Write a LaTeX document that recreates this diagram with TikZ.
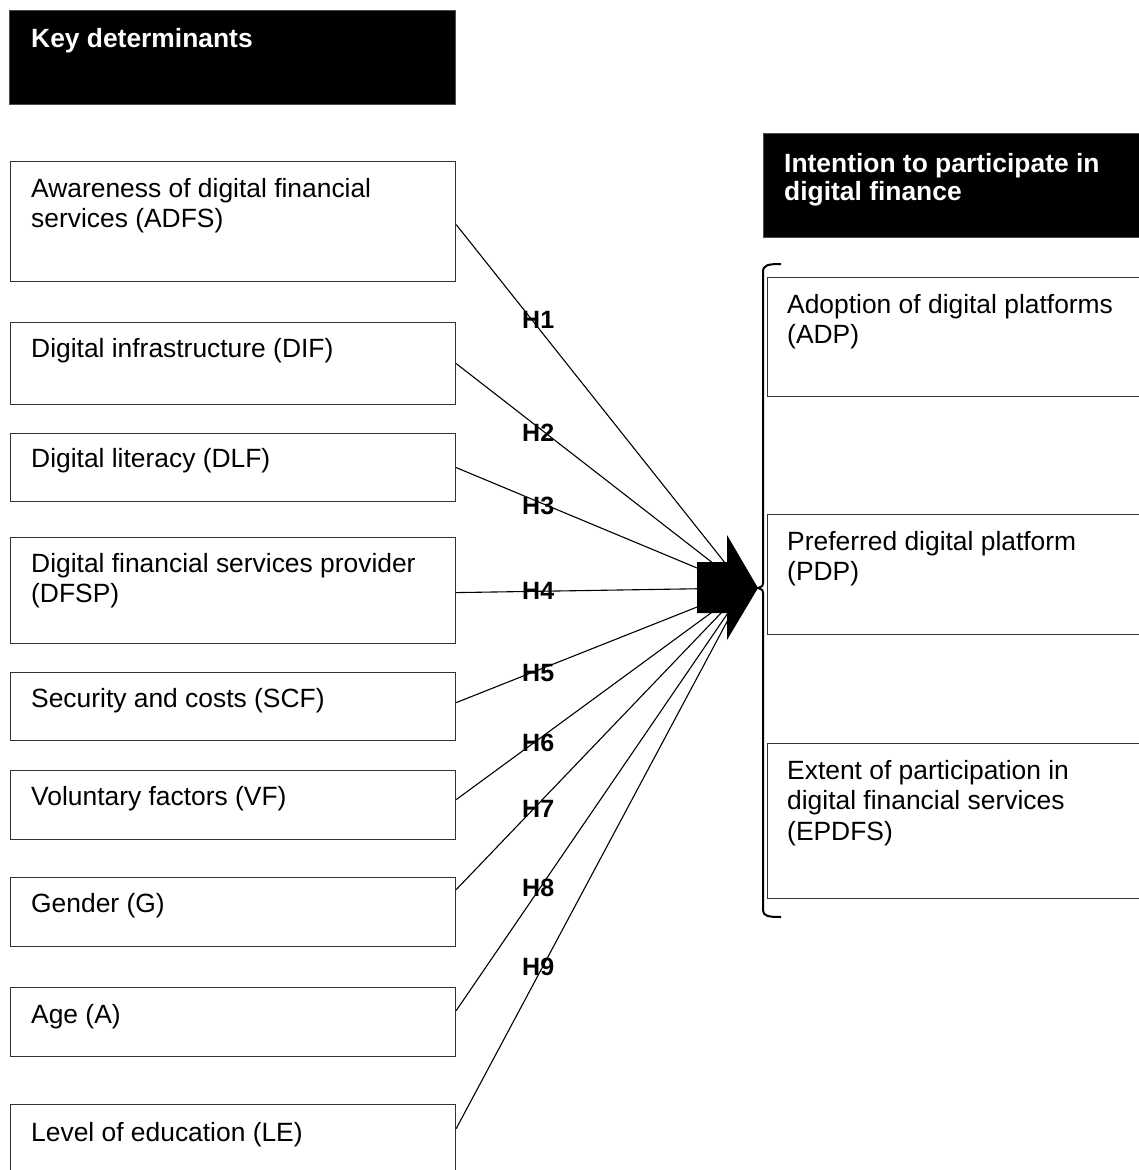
\documentclass[tikz,border=0pt]{standalone}
\usepackage{fontspec}
\setmainfont{Liberation Sans}
\begin{document}
\begin{tikzpicture}[x=1pt,y=-1pt,
  box/.style={draw=black!80, line width=1.2pt, rectangle, inner sep=0pt, anchor=north west, minimum width=445pt},
  rbox/.style={draw=black!80, line width=1.2pt, rectangle, inner sep=0pt, anchor=north west, minimum width=400pt},
  titlebox/.style={fill=black, draw=black!70, line width=0.8pt, rectangle, inner sep=0pt, anchor=north west},
  txt/.style={anchor=base west, inner sep=0pt, align=left, font=\fontsize{26.4}{30.5}\selectfont},
  ttl/.style={anchor=base west, inner sep=0pt, align=left, text=white, font=\fontsize{26.4}{28.5}\selectfont\bfseries},
  hl/.style={anchor=base west, inner sep=0pt, font=\fontsize{25}{30}\selectfont\bfseries},
  conn/.style={line width=1.1pt, black}]
\useasboundingbox (0,0) rectangle (1139,1170);
\clip (0,0) rectangle (1139,1170);

% left column (multi-line texts are placed by the baseline of their last line)
\node[titlebox, minimum width=446pt, minimum height=94pt] (kd) at (9,10) {};
\node[ttl] (kdt) at (31,47) {Key determinants};

\node[box, minimum height=120pt] (adfs) at (10,161) {};
\node[txt] (adfst) at (31,227.5) {Awareness of digital financial\\services (ADFS)};
\node[box, minimum height=82pt] (dif) at (10,322) {};
\node[txt] (dift) at (31,357) {Digital infrastructure (DIF)};
\node[box, minimum height=68pt] (dlf) at (10,433) {};
\node[txt] (dlft) at (31,467) {Digital literacy (DLF)};
\node[box, minimum height=106pt] (dfsp) at (10,537) {};
\node[txt] (dfspt) at (31,602.5) {Digital financial services provider\\(DFSP)};
\node[box, minimum height=68pt] (scf) at (10,672) {};
\node[txt] (scft) at (31,707) {Security and costs (SCF)};
\node[box, minimum height=69pt] (vf) at (10,770) {};
\node[txt] (vft) at (31,805) {Voluntary factors (VF)};
\node[box, minimum height=69pt] (g) at (10,877) {};
\node[txt] (gt) at (31,912) {Gender (G)};
\node[box, minimum height=69pt] (a) at (10,987) {};
\node[txt] (at) at (31,1023) {Age (A)};
\node[box, minimum height=80pt] (le) at (10,1104) {};
\node[txt] (let) at (31,1141) {Level of education (LE)};

% right column
\node[titlebox, minimum width=400pt, minimum height=104pt] (ip) at (763,133) {};
\node[ttl] (ipt) at (784,200.5) {Intention to participate in\\digital finance};
\node[rbox, minimum height=119pt] (adp) at (767,277) {};
\node[txt] (adpt) at (787,343.5) {Adoption of digital platforms\\(ADP)};
\node[rbox, minimum height=120pt] (pdp) at (767,514) {};
\node[txt] (pdpt) at (787,580.5) {Preferred digital platform\\(PDP)};
\node[rbox, minimum height=155pt] (ep) at (767,743) {};
\node[txt] (ept) at (787,840) {Extent of participation in\\digital financial services\\(EPDFS)};

% connectors
\coordinate (conv) at (745,588);
\draw[conn] ([yshift=-3pt]adfs.east) -- (conv);
\draw[conn] (dif.east) -- (conv);
\draw[conn] (dlf.east) -- (conv);
\draw[conn] ([yshift=-2pt]dfsp.east) -- (conv);
\draw[conn] ([yshift=4pt]scf.east) -- (conv);
\draw[conn] ([yshift=5.5pt]vf.east) -- (conv);
\draw[conn] ([yshift=22.5pt]g.east) -- (conv);
\draw[conn] ([yshift=11.5pt]a.east) -- (conv);
\draw[conn] ([yshift=16pt]le.east) -- (conv);

% block arrow
\fill[black] (697,562) -- (727,562) -- (727,535) -- (758,588) -- (727,640) -- (727,613) -- (697,613) -- cycle;

% bracket
\draw[line width=2pt] (781,264) .. controls (768,264) and (763,265) .. (763,272)
  -- (763,583) .. controls (763,586) .. (758,588) .. controls (763,590) .. (763,593)
  -- (763,910) .. controls (763,916) and (768,917) .. (781,917);

% hypothesis labels
\node[hl] (h1) at (522,328) {H1};
\node[hl] (h2) at (522,441) {H2};
\node[hl] (h3) at (522,514) {H3};
\node[hl] (h4) at (522,599) {H4};
\node[hl] (h5) at (522,681) {H5};
\node[hl] (h6) at (522,751) {H6};
\node[hl] (h7) at (522,817) {H7};
\node[hl] (h8) at (522,896) {H8};
\node[hl] (h9) at (522,975) {H9};
\end{tikzpicture}
\end{document}
